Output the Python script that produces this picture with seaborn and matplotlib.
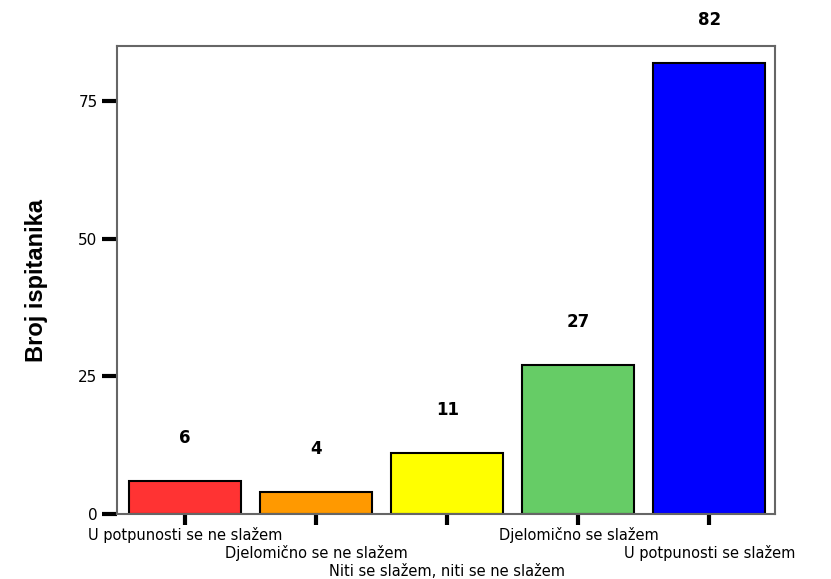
import matplotlib
matplotlib.use("Agg")
import matplotlib.pyplot as plt
import seaborn as sns
import pandas as pd

# Data
categories = [
    "U potpunosti se ne slažem",
    "Djelomično se ne slažem",
    "Niti se slažem, niti se ne slažem",
    "Djelomično se slažem",
    "U potpunosti se slažem",
]
counts = [6, 4, 11, 27, 82]
bar_colors = ["#FF3333", "#FF9900", "#FFFF00", "#66CC66", "#0000FF"]
y_ticks = [0, 25, 50, 75]
label_row = [0, 1, 2, 0, 1]  # staggered rows for category labels

df = pd.DataFrame({"odgovor": categories, "broj": counts})

sns.set_style("white")
plt.rcParams["font.family"] = ["DejaVu Sans"]
plt.rcParams["text.color"] = "black"

fig = plt.figure(figsize=(8.31, 5.79), dpi=100)
ax = fig.add_axes([117 / 831, 1 - 514 / 579, (775 - 117) / 831, (514 - 46) / 579])

sns.barplot(data=df, x="odgovor", y="broj", hue="odgovor", palette=bar_colors,
            legend=False, width=0.855, saturation=1, edgecolor="black",
            linewidth=1.5, ax=ax)

# value labels above bars
for i, v in enumerate(counts):
    ax.text(i, v + 7.8, str(v), ha="center", va="center", color="black",
            fontsize=12, fontweight="bold", clip_on=False)

ax.set_xlim(-0.52, 4.5)
ax.set_ylim(0, 85)
ax.set_yticks(y_ticks)
ax.set_yticklabels([str(t) for t in y_ticks], fontsize=11, color="black")

# staggered category labels, one text each
ax.set_xticks(range(len(categories)))
ax.set_xticklabels([""] * len(categories))
for i, (c, r) in enumerate(zip(categories, label_row)):
    ax.annotate(c, xy=(i, 0), xycoords=("data", "axes fraction"),
                xytext=(0, -15 - r * 13.2), textcoords="offset points",
                ha="center", va="center", fontsize=10.5, color="black")

ax.tick_params(axis="y", direction="out", length=11, width=3, color="black", pad=3, left=True)
ax.tick_params(axis="x", direction="out", length=8, width=3, color="black", pad=5, bottom=True)

for sp in ax.spines.values():
    sp.set_color("#666666")
    sp.set_linewidth(1.5)

ax.set_xlabel("")
ax.set_ylabel("Broj ispitanika", fontsize=17, fontweight="bold", color="black",
              family=["Liberation Sans Narrow", "Liberation Sans", "DejaVu Sans"], labelpad=22)

fig.savefig("out.png", dpi=100)
